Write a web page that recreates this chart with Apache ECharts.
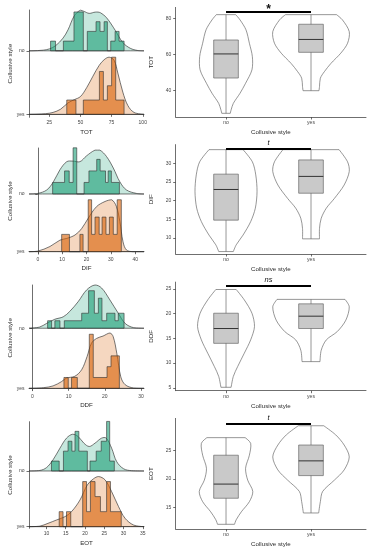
<!DOCTYPE html>
<html><head><meta charset="utf-8">
<script src="https://cdn.jsdelivr.net/npm/echarts@6/dist/echarts.min.js"></script>
<style>html,body{margin:0;padding:0;background:#fff}#c{width:369px;height:550px}</style>
</head><body><div id="c"></div>
<script>
// ---------------- DATA ----------------
const categories = ['no', 'yes'];
const variables = ['TOT', 'DIF', 'DDF', 'EOT'];
const sigLabels = ['*', 't', 'ns', 't'];
const sigBarY = [83.5, 33.8, 25.6, 29.7];

// tick labels
const totTicks = [25, 50, 75, 100];
const difTicks = [0, 10, 20, 30, 40];
const ddfTicks = [0, 10, 20, 30];
const eotTicks = [10, 15, 20, 25, 30, 35];
const totYTicks = [40, 60, 80];
const difYTicks = [10, 15, 20, 25, 30];
const ddfYTicks = [5, 10, 15, 20, 25];
const eotYTicks = [15, 20, 25];

// ridgeline densities (x, height in ridge units)
const totNoDensX = [8.7, 11, 20, 25, 30, 36, 40, 45, 50, 53, 57, 62, 66, 71, 78, 84, 90, 96, 101];
const totNoDensH = [0, 0, 0.01, 0.03, 0.08, 0.2, 0.33, 0.55, 0.64, 0.62, 0.59, 0.61, 0.6, 0.52, 0.32, 0.13, 0.04, 0.005, 0];
const totYesDensX = [8.7, 15, 22, 28, 34, 40, 45, 50, 55, 60, 65, 69, 73, 77, 80, 84, 88, 93, 101];
const totYesDensH = [0, 0.003, 0.01, 0.03, 0.08, 0.18, 0.23, 0.28, 0.42, 0.6, 0.77, 0.86, 0.9, 0.85, 0.65, 0.35, 0.14, 0.03, 0];
const difNoDensX = [-3.6, 0, 3.7, 6.4, 9.1, 11.9, 14.3, 17.3, 20, 23.5, 25.5, 28.2, 31, 33.7, 36.4, 40.5, 43.6];
const difNoDensH = [0, 0.01, 0.07, 0.21, 0.42, 0.56, 0.57, 0.56, 0.66, 0.76, 0.76, 0.65, 0.45, 0.21, 0.07, 0.01, 0];
const difYesDensX = [-3.6, 0, 5, 9.1, 11.9, 15.3, 18, 20.7, 24.1, 27.6, 30.3, 32.3, 33.7, 35, 36.4, 39, 43.6];
const difYesDensH = [0, 0.01, 0.09, 0.2, 0.23, 0.29, 0.4, 0.58, 0.78, 0.87, 0.9, 0.78, 0.52, 0.17, 0.03, 0, 0];
const ddfNoDensX = [-0.94, 2, 3.9, 6.2, 8.5, 10.3, 12.6, 15, 17.3, 19.1, 21.4, 23.7, 25.6, 27.9, 30.8];
const ddfNoDensH = [0, 0.02, 0.08, 0.15, 0.19, 0.28, 0.44, 0.64, 0.72, 0.67, 0.47, 0.25, 0.08, 0.01, 0];
const ddfYesDensX = [-0.94, 3, 5.7, 8, 9.4, 11.7, 13.6, 15.1, 16.3, 17.7, 19.5, 21.4, 22.3, 23.3, 24.4, 25.6, 27.9, 30.8];
const ddfYesDensH = [0, 0.01, 0.04, 0.11, 0.17, 0.2, 0.31, 0.53, 0.75, 0.83, 0.87, 0.92, 0.86, 0.58, 0.19, 0.06, 0.005, 0];
const eotNoDensX = [5.47, 8.3, 10, 11.7, 13.5, 15.2, 16.8, 18.2, 19.7, 21.1, 22.6, 24.3, 25.5, 26.9, 28.2, 30, 32.1, 35.3];
const eotNoDensH = [0, 0.01, 0.06, 0.2, 0.41, 0.59, 0.66, 0.62, 0.5, 0.44, 0.5, 0.59, 0.59, 0.41, 0.17, 0.04, 0.005, 0];
const eotYesDensX = [5.47, 8.3, 10.4, 12.6, 14.8, 16.5, 18.7, 20.6, 22.2, 23.5, 25.2, 26.9, 28.7, 30.4, 32.6, 35.3];
const eotYesDensH = [0, 0.01, 0.06, 0.12, 0.18, 0.27, 0.48, 0.75, 0.86, 0.9, 0.84, 0.63, 0.36, 0.15, 0.03, 0];

// histograms: bin edges and counts
const totNoEdges = [26, 30, 36.3, 44.8, 52.3, 55.5, 62.5, 65.7, 69, 71.6, 74.3, 77.8, 81, 85];
const totNoCounts = [1, 0, 1, 4, 0, 2, 3, 2, 3, 0, 1, 2, 1];
const totYesEdges = [39, 46.4, 52.3, 65.2, 68.4, 71.6, 75, 78.3, 85];
const totYesCounts = [1, 0, 1, 3, 1, 2, 4, 1];
const difNoEdges = [6.1, 11.0, 12.9, 14.5, 16.0, 19.0, 21.0, 24.2, 25.6, 27.8, 28.9, 30.2, 33.5];
const difNoCounts = [1, 2, 1, 4, 0, 1, 2, 3, 2, 1, 2, 1];
const difYesEdges = [9.8, 13.0, 17.3, 18.6, 20.7, 22.1, 23.5, 25.2, 26.4, 28.0, 29.4, 31.0, 32.6, 34.3];
const difYesCounts = [1, 0, 1, 0, 3, 1, 2, 1, 2, 1, 2, 1, 3];
const ddfNoEdges = [4.2, 5.3, 6.2, 7.6, 8.8, 13.6, 15.5, 17.1, 18.2, 19.2, 20.5, 22.8, 23.7, 25.3];
const ddfNoCounts = [1, 0, 1, 0, 1, 2, 5, 2, 4, 1, 2, 1, 2];
const ddfYesEdges = [8.7, 9.9, 10.8, 12.4, 15.7, 16.8, 20.6, 21.7, 24.0];
const ddfYesCounts = [1, 0, 1, 0, 5, 1, 2, 3];
const eotNoEdges = [11.3, 13.3, 14.4, 15.6, 16.6, 17.4, 18.4, 20.6, 21.3, 22.9, 24.2, 25.6, 26.4, 27.6];
const eotNoCounts = [1, 0, 2, 3, 2, 4, 2, 0, 1, 2, 3, 5, 1];
const eotYesEdges = [13.3, 14.3, 15.2, 16.3, 19.4, 20.4, 21.4, 22.6, 24.0, 25.6, 26.6, 29.4];
const eotYesCounts = [1, 0, 1, 0, 3, 1, 3, 2, 1, 3, 1];
const histUnit = [[0.153, 0.225], [0.2, 0.3], [0.125, 0.18], [0.178, 0.27]];

// violins: value levels and half-widths (in category units)
const totNoVioY = [82, 79.1, 73.6, 66.2, 58.8, 51.5, 44.1, 38.6, 33, 29.4, 27.5];
const totNoVioW = [0.114, 0.165, 0.235, 0.275, 0.31, 0.305, 0.23, 0.165, 0.086, 0.06, 0.05];
const totYesVioY = [82, 79.1, 72.6, 66.2, 60.7, 55.1, 50.5, 46.9, 42.3, 40];
const totYesVioW = [0.30, 0.37, 0.45, 0.43, 0.35, 0.235, 0.157, 0.11, 0.1, 0.094];
const difNoVioY = [33.65, 30.4, 26.9, 22.4, 18, 14.4, 10.8, 8.2, 6.4];
const difNoVioW = [0.2, 0.31, 0.35, 0.365, 0.345, 0.29, 0.2, 0.12, 0.086];
const difYesVioY = [33.65, 30.4, 27.8, 24.2, 20.6, 18, 15.3, 12.6, 9.8];
const difYesVioW = [0.33, 0.43, 0.45, 0.39, 0.275, 0.18, 0.12, 0.1, 0.1];
const ddfNoVioY = [24.9, 22.8, 20.1, 17.4, 14.7, 12, 9.3, 7.3, 5.1];
const ddfNoVioW = [0.12, 0.215, 0.305, 0.335, 0.29, 0.215, 0.137, 0.086, 0.06];
const ddfYesVioY = [22.9, 21.4, 18.7, 16.4, 14.7, 12.6, 10.3];
const ddfYesVioW = [0.4, 0.45, 0.41, 0.31, 0.18, 0.12, 0.106];
const eotNoVioY = [27.3, 26.3, 24.2, 21.9, 19.8, 17.8, 16, 14.2, 12.8, 12.0];
const eotNoVioW = [0.225, 0.29, 0.275, 0.23, 0.255, 0.315, 0.275, 0.18, 0.12, 0.1];
const eotYesVioY = [29.4, 27.8, 26, 23.9, 21.6, 19.8, 17.8, 16, 14];
const eotYesVioW = [0.15, 0.29, 0.39, 0.45, 0.39, 0.275, 0.137, 0.11, 0.09];

// boxplots: [min, q1, median, q3, max]
const totBox = [[27.5, 47, 60.3, 68, 82], [40, 61.2, 68.3, 76.7, 82]];
const difBox = [[6.4, 14.8, 23.0, 27.1, 33.65], [9.8, 22.0, 26.5, 30.9, 33.65]];
const ddfBox = [[5.1, 14.0, 17.0, 20.1, 24.9], [10.3, 17.0, 19.5, 22.0, 22.9]];
const eotBox = [[12.0, 16.6, 19.1, 24.2, 27.3], [14.0, 20.6, 23.2, 26.0, 29.4]];

// ---------------- BUILD ----------------
const rows = [
  {xt: totTicks, yt: totYTicks, dens: [[totNoDensX, totNoDensH], [totYesDensX, totYesDensH]], hist: [[totNoEdges, totNoCounts], [totYesEdges, totYesCounts]], vio: [[totNoVioY, totNoVioW], [totYesVioY, totYesVioW]], box: totBox},
  {xt: difTicks, yt: difYTicks, dens: [[difNoDensX, difNoDensH], [difYesDensX, difYesDensH]], hist: [[difNoEdges, difNoCounts], [difYesEdges, difYesCounts]], vio: [[difNoVioY, difNoVioW], [difYesVioY, difYesVioW]], box: difBox},
  {xt: ddfTicks, yt: ddfYTicks, dens: [[ddfNoDensX, ddfNoDensH], [ddfYesDensX, ddfYesDensH]], hist: [[ddfNoEdges, ddfNoCounts], [ddfYesEdges, ddfYesCounts]], vio: [[ddfNoVioY, ddfNoVioW], [ddfYesVioY, ddfYesVioW]], box: ddfBox},
  {xt: eotTicks, yt: eotYTicks, dens: [[eotNoDensX, eotNoDensH], [eotYesDensX, eotYesDensH]], hist: [[eotNoEdges, eotNoCounts], [eotYesEdges, eotYesCounts]], vio: [[eotNoVioY, eotNoVioW], [eotYesVioY, eotYesVioW]], box: eotBox}
];

// layout (px) and scale ranges
const leftGrid = [[10, 117.3], [148, 254], [285, 390.7], [421.7, 528.3]];
const rightGrid = [[7.4, 117], [144.6, 254], [282.1, 390.7], [418.4, 529]];
const leftXRange = [[8.7, 101], [-3.6, 43.6], [-0.94, 30.8], [5.47, 35.3]];
const leftYRange = [[-0.047, 1.643], [-0.04, 1.797], [-0.04, 1.72], [-0.029, 1.885]];
const rightYRange = [[25.47, 86], [5.75, 35], [4.41, 26.4], [11.17, 30.7]];
const rightXRange = [0.408, 2.647];
const baseOf = [1, 0]; // ridge baseline for no / yes

const FONT = 'Liberation Sans, Arial, sans-serif';
const AX = {color: '#4a4a4a', width: 0.8};
const densFill = ['rgba(27,158,119,0.25)', 'rgba(217,95,2,0.25)'];
const histFill = ['rgba(27,158,119,0.6)', 'rgba(217,95,2,0.6)'];

const grids = [], xAxes = [], yAxes = [], series = [];

function axisCommon(ticks, fmt, margin) {
  return {
    axisLine: {show: true, lineStyle: AX},
    axisTick: {show: true, length: 2.5, lineStyle: AX, customValues: ticks},
    axisLabel: {show: true, fontSize: 5, color: '#444', fontFamily: FONT, margin: margin, customValues: ticks, formatter: fmt},
    splitLine: {show: false},
    nameLocation: 'middle',
    nameTextStyle: {fontSize: 6.2, color: '#2a2a2a', fontFamily: FONT, fontStyle: 'normal'}
  };
}

rows.forEach((r, i) => {
  const li = 2 * i, ri = 2 * i + 1;
  grids.push({left: 29, width: 115, top: leftGrid[i][0], height: leftGrid[i][1] - leftGrid[i][0], outerBoundsMode: 'none', containLabel: false});
  grids.push({left: 175.7, width: 190.3, top: rightGrid[i][0], height: rightGrid[i][1] - rightGrid[i][0], outerBoundsMode: 'none', containLabel: false});

  xAxes.push(Object.assign(axisCommon(r.xt, v => String(v), 3), {type: 'value', gridIndex: li, min: leftXRange[i][0], max: leftXRange[i][1], name: variables[i], nameGap: 11.5}));
  yAxes.push(Object.assign(axisCommon([0, 1], v => categories[1 - Math.round(v)], 4.5), {type: 'value', gridIndex: li, min: leftYRange[i][0], max: leftYRange[i][1], name: 'Collusive style', nameGap: 15}));
  xAxes.push(Object.assign(axisCommon([1, 2], v => categories[Math.round(v) - 1], 3.5), {type: 'value', gridIndex: ri, min: rightXRange[0], max: rightXRange[1], name: 'Collusive style', nameGap: 12.5}));
  yAxes.push(Object.assign(axisCommon(r.yt, v => String(v), 4.5), {type: 'value', gridIndex: ri, min: rightYRange[i][0], max: rightYRange[i][1], name: variables[i], nameGap: 12.7}));

  // densities (no first, then yes)
  [0, 1].forEach(g => {
    const xs = r.dens[g][0], hs = r.dens[g][1], base = baseOf[g];
    series.push({type: 'custom', xAxisIndex: li, yAxisIndex: li, silent: true, z: 2, data: [[0]],
      renderItem: (p, api) => {
        const pts = xs.map((x, k) => api.coord([x, base + hs[k]]));
        return {type: 'polygon', shape: {points: pts, smooth: 0.35, smoothConstraint: [pts[0], pts[0]]},
          style: {fill: densFill[g], stroke: '#2f2f2f', lineWidth: 0.65}};
      }});
  });
  // histograms
  [0, 1].forEach(g => {
    const edges = r.hist[g][0], counts = r.hist[g][1], base = baseOf[g], u = histUnit[i][g];
    series.push({type: 'custom', xAxisIndex: li, yAxisIndex: li, silent: true, z: 3, data: [[0]],
      renderItem: (p, api) => {
        const pts = [api.coord([edges[0], base])];
        counts.forEach((c, k) => {
          pts.push(api.coord([edges[k], base + c * u]));
          pts.push(api.coord([edges[k + 1], base + c * u]));
        });
        pts.push(api.coord([edges[edges.length - 1], base]));
        return {type: 'polygon', shape: {points: pts}, style: {fill: histFill[g], stroke: '#2f2f2f', lineWidth: 0.6}};
      }});
  });
  // violins + boxplots
  series.push({type: 'custom', xAxisIndex: ri, yAxisIndex: ri, silent: true, z: 3, data: [[0], [1]],
    renderItem: (p, api) => {
      const g = p.dataIndex, c = g + 1;
      const ys = r.vio[g][0], ws = r.vio[g][1], b = r.box[g];
      const R = ys.map((y, k) => api.coord([c + ws[k], y]));
      const L = ys.map((y, k) => api.coord([c - ws[k], y]));
      const n = ys.length;
      const vs = {stroke: '#5e5e5e', lineWidth: 0.65, fill: 'none'};
      const bw = 0.145;
      const tl = api.coord([c - bw, b[3]]), br = api.coord([c + bw, b[1]]);
      const mL = api.coord([c - bw, b[2]]), mR = api.coord([c + bw, b[2]]);
      const wTop = api.coord([c, b[4]]), wBot = api.coord([c, b[0]]);
      return {type: 'group', children: [
        {type: 'polyline', shape: {points: R, smooth: 0.3}, style: vs},
        {type: 'polyline', shape: {points: L, smooth: 0.3}, style: vs},
        {type: 'line', shape: {x1: L[0][0], y1: L[0][1], x2: R[0][0], y2: R[0][1]}, style: vs},
        {type: 'line', shape: {x1: L[n - 1][0], y1: L[n - 1][1], x2: R[n - 1][0], y2: R[n - 1][1]}, style: vs},
        {type: 'line', shape: {x1: wTop[0], y1: wTop[1], x2: wBot[0], y2: wBot[1]}, style: {stroke: '#5e5e5e', lineWidth: 0.65}},
        {type: 'rect', shape: {x: tl[0], y: tl[1], width: br[0] - tl[0], height: br[1] - tl[1]}, style: {fill: '#c9c9c9', stroke: '#5e5e5e', lineWidth: 0.65}},
        {type: 'line', shape: {x1: mL[0], y1: mL[1], x2: mR[0], y2: mR[1]}, style: {stroke: '#333', lineWidth: 1}}
      ]};
    }});
  // significance bar
  series.push({type: 'custom', xAxisIndex: ri, yAxisIndex: ri, silent: true, z: 4, data: [[0]],
    renderItem: (p, api) => {
      const a = api.coord([1, sigBarY[i]]), b = api.coord([2, sigBarY[i]]);
      const star = sigLabels[i] === '*';
      return {type: 'group', children: [
        {type: 'line', shape: {x1: a[0], y1: a[1], x2: b[0], y2: b[1]}, style: {stroke: '#000', lineWidth: 2}},
        {type: 'text', style: {text: sigLabels[i], x: (a[0] + b[0]) / 2, y: a[1] - (star ? 2.5 : 6.3),
          align: 'center', verticalAlign: 'middle', fill: '#111',
          font: (star ? 'bold 12px ' : 'italic 7.5px ') + FONT}}
      ]};
    }});
});

const chart = echarts.init(document.getElementById('c'), null, {renderer: 'canvas', width: 369, height: 550});
chart.setOption({
  animation: false,
  backgroundColor: '#fff',
  grid: grids,
  xAxis: xAxes,
  yAxis: yAxes,
  series: series
});
</script>
</body></html>
